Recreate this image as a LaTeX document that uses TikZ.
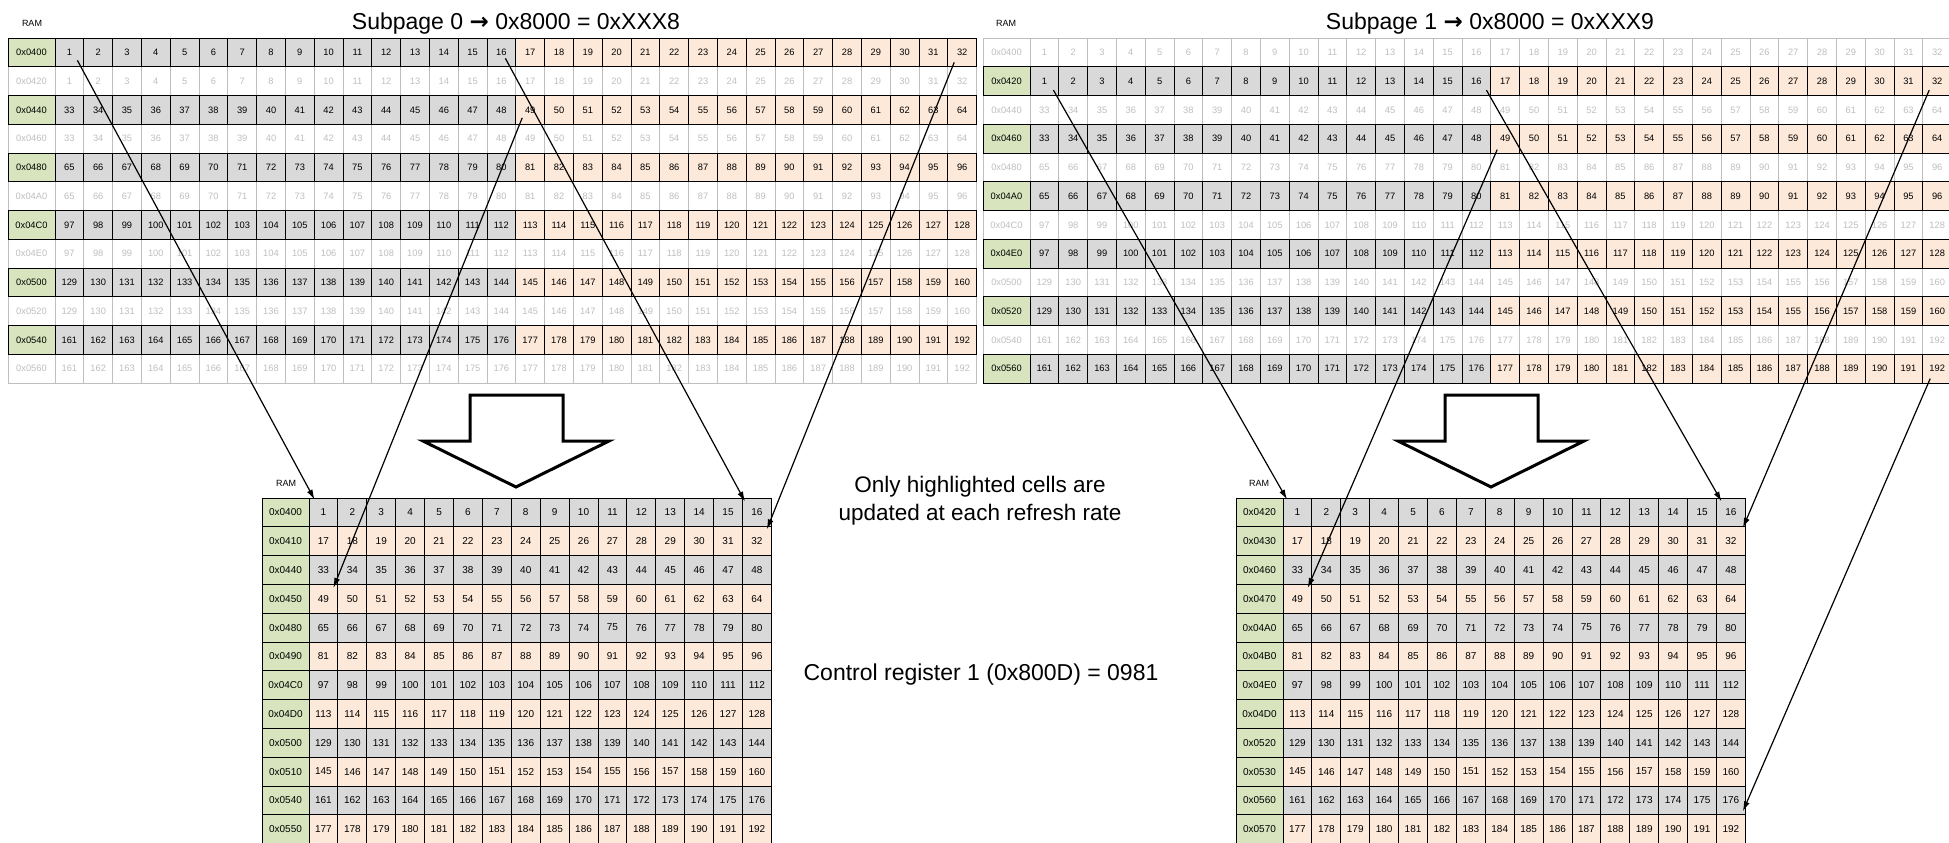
\documentclass[tikz,border=0pt]{standalone}
\usepackage[svgnames]{xcolor}
\usepackage{fontspec}
\setmainfont{Liberation Sans}
\newfontfamily\arrowfont{DejaVu Sans}
\usepackage{tikz}
\usetikzlibrary{arrows.meta}
\definecolor{addrgreen}{HTML}{D7E4BD}
\definecolor{cellgray}{HTML}{D9D9D9}
\definecolor{cellpeach}{HTML}{FDE9D9}
\definecolor{fadegray}{HTML}{BFBFBF}

\newcommand\ramrow[6]{%
  \pgfmathsetmacro\ramy{52.375+28.75*#3}%
  \node[fill=addrgreen, #6, minimum width=47pt] (#1-#3-0) at ({#2+23.5},\ramy) {0x#4};%
  \foreach \j in {1,...,32}{%
    \pgfmathtruncatemacro\ramn{#5+\j}%
    \pgfmathsetmacro\ramx{#2+47+(\j-0.5)*28.8}%
    \ifnum\j<17 \def\ramfill{cellgray}\else\def\ramfill{cellpeach}\fi
    \node[fill=\ramfill, #6] (#1-#3-\j) at (\ramx,\ramy) {\ramn};%
  }%
}
\newcommand\bufrow[5]{%
  \pgfmathsetmacro\ramy{498+28.8*(#3+0.5)}%
  \node[buf, fill=addrgreen, minimum width=47pt] (#1-#3-0) at ({#2+23.5},\ramy) {0x#4};%
  \foreach \j in {1,...,16}{%
    \pgfmathtruncatemacro\ramn{16*#3+\j}%
    \pgfmathsetmacro\ramx{#2+47+(\j-0.5)*28.9}%
    \node[buf, fill=#5] (#1-#3-\j) at (\ramx,\ramy) {\ramn};%
  }%
}

\begin{document}
\begin{tikzpicture}[x=1pt, y=-1pt,
  cell/.style={draw, inner sep=0pt, minimum width=28.8pt, minimum height=28.75pt, line width=0.9pt, font=\fontsize{9.3}{10}\selectfont},
  on/.style={cell, draw=black, text=black},
  off/.style={cell, draw=fadegray, fill=white, text=fadegray},
  buf/.style={draw=black, line width=0.9pt, inner sep=0pt, minimum width=28.9pt, minimum height=28.8pt, font=\fontsize{10}{11}\selectfont},
  ram/.style={font=\fontsize{9}{10}\selectfont},
  head/.style={font=\fontsize{23}{27}\selectfont, anchor=base},
  link/.style={line width=1.2pt, -{Latex[length=10pt,width=6pt]}},
  bigarrow/.style={line width=3pt}]
	\useasboundingbox (0,0) rectangle (1949,843);
	\clip (0,0) rectangle (1949,843);
	\foreach \ha/\hb [count=\k from 0] in {0400/0420,0440/0460,0480/04A0,04C0/04E0,0500/0520,0540/0560}{
	  \pgfmathtruncatemacro\kb{32*\k}
	  \pgfmathtruncatemacro\ka{2*\k}
	  \pgfmathtruncatemacro\kc{2*\k+1}
	  \ramrow{p0}{8}{\kc}{\hb}{\kb}{off}
	  \ramrow{p1}{983}{\ka}{\ha}{\kb}{off}
	}
	\foreach \ha/\hb [count=\k from 0] in {0400/0420,0440/0460,0480/04A0,04C0/04E0,0500/0520,0540/0560}{
	  \pgfmathtruncatemacro\kb{32*\k}
	  \pgfmathtruncatemacro\ka{2*\k}
	  \pgfmathtruncatemacro\kc{2*\k+1}
	  \ramrow{p0}{8}{\ka}{\ha}{\kb}{on}
	  \ramrow{p1}{983}{\kc}{\hb}{\kb}{on}
	}
	\foreach \ad [count=\r from 0] in {0400,0410,0440,0450,0480,0490,04C0,04D0,0500,0510,0540,0550}{
	  \pgfmathtruncatemacro\rr{mod(\r,2)}
	  \ifnum\rr=0 \def\rowfill{cellgray}\else\def\rowfill{cellpeach}\fi
	  \bufrow{q0}{262}{\r}{\ad}{\rowfill}
	}
	\foreach \ad [count=\r from 0] in {0420,0430,0460,0470,04A0,04B0,04E0,04D0,0520,0530,0560,0570}{
	  \pgfmathtruncatemacro\rr{mod(\r,2)}
	  \ifnum\rr=0 \def\rowfill{cellgray}\else\def\rowfill{cellpeach}\fi
	  \bufrow{q1}{1236}{\r}{\ad}{\rowfill}
	}
	\node[ram] (ram0) at (32,23) {RAM};
	\node[ram] (ram1) at (1006,23) {RAM};
	\node[ram] (ram2) at (286,483) {RAM};
	\node[ram] (ram3) at (1259,483) {RAM};
	\node[head] (title0) at (516,30) {Subpage 0 {\arrowfont\bfseries →} 0x8000 = 0xXXX8};
	\node[head] (title1) at (1490,30) {Subpage 1 {\arrowfont\bfseries →} 0x8000 = 0xXXX9};
	\node[font=\fontsize{22.5}{28}\selectfont, align=center] (note) at (980,501) {Only highlighted cells are\\updated at each refresh rate};
	\node[head] (ctrl) at (981,680) {Control register 1 (0x800D) = 0981};
	\draw[bigarrow] (470,395) -- (563,395) -- (563,441) -- (609,441) -- (516,487) -- (423,441) -- (470,441) -- cycle;
	\draw[bigarrow] (1445,395) -- (1538,395) -- (1538,441) -- (1584,441) -- (1491,487) -- (1398,441) -- (1445,441) -- cycle;
	\draw[link] ([shift={(8,8)}]p0-0-1.center) -- ([shift={(6,2)}]q0-0-1.north west);
	\draw[link] ([shift={(4,6)}]p0-0-16.center) -- ([shift={(3,4)}]q0-0-16.north west);
	\draw[link] ([shift={(-8,8)}]p0-2-17.center) -- ([shift={(-5,4)}]q0-3-1.north east);
	\draw[link] ([shift={(-8,10)}]p0-0-32.center) -- ([shift={(-5,3)}]q0-1-16.north east);
	\draw[link] ([shift={(9,9)}]p1-1-1.center) -- ([shift={(4.5,2)}]q1-0-1.north west);
	\draw[link] ([shift={(10,9)}]p1-1-16.center) -- ([shift={(5.5,4)}]q1-0-16.north west);
	\draw[link] ([shift={(-8,11)}]p1-3-17.center) -- ([shift={(-4.7,4)}]q1-3-1.north east);
	\draw[link] ([shift={(-8,9)}]p1-1-32.center) -- ([shift={(-3,1.5)}]q1-1-16.north east);
	\draw[link] ([shift={(-7,10)}]p1-11-32.center) -- ([shift={(-3,-3)}]q1-11-16.north east);
\end{tikzpicture}
\end{document}
